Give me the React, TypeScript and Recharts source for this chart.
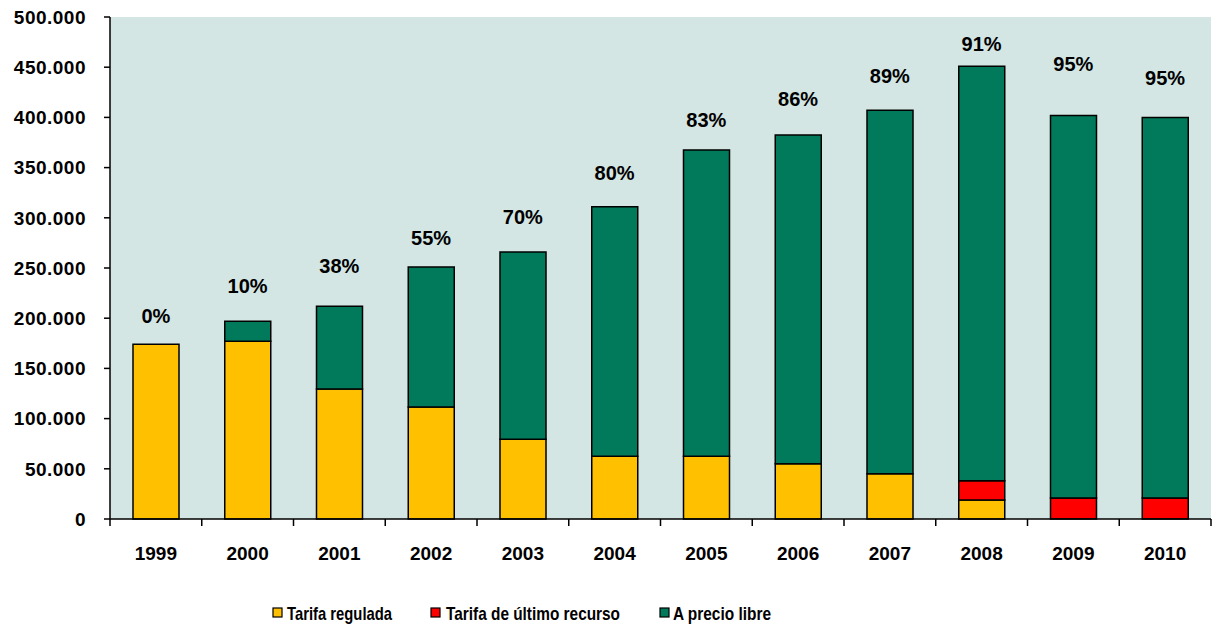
import React from 'react';
import {
  ComposedChart,
  Bar,
  Line,
  XAxis,
  YAxis,
  CartesianGrid,
  Legend,
  LabelList,
} from 'recharts';

const years = ['1999', '2000', '2001', '2002', '2003', '2004', '2005', '2006', '2007', '2008', '2009', '2010'];
const tarifaRegulada = [174000, 177000, 129500, 111500, 79500, 62500, 62500, 55000, 45000, 19000, 0, 0];
const tarifaUltimoRecurso = [0, 0, 0, 0, 0, 0, 0, 0, 0, 19000, 21000, 21000];
const precioLibre = [0, 20000, 82500, 139500, 186500, 248500, 305000, 327500, 362000, 413000, 381000, 379000];
const pctLabels = ['0%', '10%', '38%', '55%', '70%', '80%', '83%', '86%', '89%', '91%', '95%', '95%'];
const pctLabelHeights = [202000, 232000, 252000, 280000, 301000, 345000, 397000, 418000, 441000, 473000, 453000, 439000];
const yTicks = [0, 50000, 100000, 150000, 200000, 250000, 300000, 350000, 400000, 450000, 500000];

const seriesNames = ['Tarifa regulada', 'Tarifa de último recurso', 'A precio libre'];
const COLORS = ['#FFC000', '#FF0000', '#007A5A'];
const FONT = "'Liberation Sans', Arial, Helvetica, sans-serif";

const data = years.map((y, i) => ({
  year: y,
  regulada: tarifaRegulada[i],
  ultimo: tarifaUltimoRecurso[i],
  libre: precioLibre[i],
  labelPos: pctLabelHeights[i],
  pct: pctLabels[i],
}));

const fmt = (v: number) => String(v).replace(/\B(?=(\d{3})+(?!\d))/g, '.');

const XTick = (props: any) => {
  const { x, y, payload, index } = props;
  const off = payload && payload.offset ? payload.offset : 45.875;
  return (
    <g>
      <line x1={x + off} x2={x + off} y1={y} y2={y + 7} stroke="#000" strokeWidth={1.5} />
      {index === 0 && <line x1={x - off} x2={x - off} y1={y} y2={y + 7} stroke="#000" strokeWidth={1.5} />}
      <text
        x={x}
        y={y + 34}
        textAnchor="middle"
        dominantBaseline="central"
        fontFamily={FONT}
        fontWeight="bold"
        fontSize={19}
        fill="#000"
      >
        {payload.value}
      </text>
    </g>
  );
};

const PctLabel = (props: any) => {
  const { x, y, value } = props;
  return (
    <text
      x={x}
      y={y}
      textAnchor="middle"
      dominantBaseline="central"
      fontFamily={FONT}
      fontWeight="bold"
      fontSize={20}
      fill="#000"
    >
      {value}
    </text>
  );
};

const legendLayout = [
  { sq: 273, tx: 287, len: 105 },
  { sq: 431, tx: 446, len: 174 },
  { sq: 660, tx: 673, len: 98 },
];

const LegendContent = () => (
  <svg width={1214} height={30}>
    {seriesNames.map((n, i) => (
      <g key={n}>
        <rect x={legendLayout[i].sq} y={10} width={9} height={9} fill={COLORS[i]} stroke="#000" strokeWidth={1.2} />
        <text
          x={legendLayout[i].tx}
          y={15}
          dominantBaseline="central"
          fontFamily={FONT}
          fontWeight="bold"
          fontSize={19}
          fill="#000"
          textLength={legendLayout[i].len}
          lengthAdjust="spacingAndGlyphs"
        >
          {n}
        </text>
      </g>
    ))}
  </svg>
);

export default function App() {
  return (
    <div style={{ position: 'absolute', left: 0, top: 0, width: 1214, height: 627, background: '#fff' }}>
      <ComposedChart
        width={1214}
        height={627}
        data={data}
        margin={{ top: 17, right: 3, left: 0, bottom: 0 }}
        barCategoryGap={0}
      >
        <CartesianGrid horizontal={false} vertical={false} fill="#D3E6E3" fillOpacity={1} />
        <XAxis
          dataKey="year"
          height={108}
          axisLine={{ stroke: '#000', strokeWidth: 1.5 }}
          tickLine={false}
          tickSize={0}
          tickMargin={0}
          tick={<XTick />}
          interval={0}
        />
        <XAxis xAxisId="top" dataKey="year" orientation="top" height={0} tick={false} tickLine={false} axisLine={{ stroke: '#888', strokeWidth: 1 }} />
        <YAxis
          width={110}
          domain={[0, 500000]}
          ticks={yTicks}
          tickFormatter={fmt}
          interval={0}
          tickSize={6}
          tickMargin={18}
          axisLine={{ stroke: '#000', strokeWidth: 1.5 }}
          tickLine={{ stroke: '#000', strokeWidth: 1.5 }}
          tick={{ fill: '#000', fontSize: 19, fontWeight: 'bold', fontFamily: FONT, letterSpacing: 0.5 }}
        />
        <YAxis yAxisId="right" orientation="right" width={0} domain={[0, 500000]} tick={false} tickLine={false} axisLine={{ stroke: '#888', strokeWidth: 1 }} />
        <Bar dataKey="regulada" name={seriesNames[0]} stackId="a" fill={COLORS[0]} stroke="#000" strokeWidth={1.5} barSize={46} isAnimationActive={false} />
        <Bar dataKey="ultimo" name={seriesNames[1]} stackId="a" fill={COLORS[1]} stroke="#000" strokeWidth={1.5} barSize={46} isAnimationActive={false} />
        <Bar dataKey="libre" name={seriesNames[2]} stackId="a" fill={COLORS[2]} stroke="#000" strokeWidth={1.5} barSize={46} isAnimationActive={false} />
        <Line dataKey="labelPos" stroke="none" dot={false} activeDot={false} legendType="none" isAnimationActive={false}>
          <LabelList dataKey="pct" content={<PctLabel />} />
        </Line>
        <Legend
          layout="horizontal"
          verticalAlign="middle"
          align="center"
          content={<LegendContent />}
          wrapperStyle={{ top: 598, left: 0, width: 1214, height: 30 }}
        />
      </ComposedChart>
    </div>
  );
}
